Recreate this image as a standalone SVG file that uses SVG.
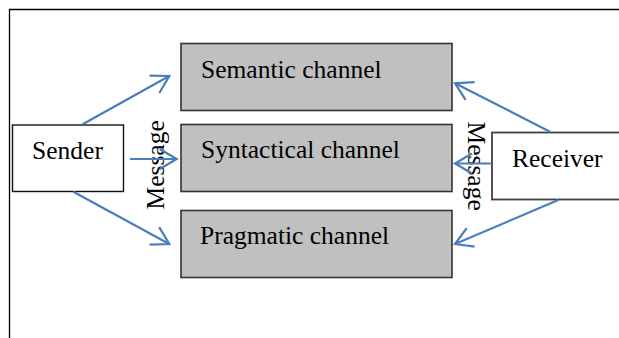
<svg xmlns="http://www.w3.org/2000/svg" width="619" height="338" viewBox="0 0 619 338">
<style>
text{font-family:"Liberation Serif","Times New Roman",serif;font-size:25.5px;fill:#000}
.ch{fill:#c0c0c0;stroke:#333;stroke-width:1.6}
.box{fill:#fff;stroke:#111;stroke-width:1.4}
.arr{fill:none;stroke:#4a7ebb;stroke-width:2.2;marker-end:url(#ah)}
</style>
<defs>
<marker id="ah" markerUnits="userSpaceOnUse" orient="auto" markerWidth="40" markerHeight="40" refX="0" refY="0" viewBox="-20 -20 40 40" overflow="visible">
<path d="M-17,-10 L0,0 L-17,10" fill="none" stroke="#4a7ebb" stroke-width="2.2"/>
</marker>
</defs>
<rect width="619" height="338" fill="#fff"/>
<g id="frame"><path d="M9.5,338 V9.5 H619" fill="none" stroke="#000" stroke-width="1.3"/></g>
<g id="semantic"><rect class="ch" x="181" y="43.5" width="271" height="67"/><text x="201" y="78">Semantic channel</text></g>
<g id="syntactical"><rect class="ch" x="181" y="124.5" width="271" height="67"/><text x="201" y="158">Syntactical channel</text></g>
<g id="pragmatic"><rect class="ch" x="181" y="210.5" width="271" height="67"/><text x="200" y="244">Pragmatic channel</text></g>
<g id="sender"><rect class="box" x="12.5" y="125" width="111" height="66.5"/><text x="67.5" y="159" text-anchor="middle">Sender</text></g>
<g id="receiver"><rect x="492" y="132.5" width="130" height="67" fill="#fff" stroke="#404040" stroke-width="1.8"/><text x="512" y="166.5">Receiver</text></g>
<g id="labels">
<text transform="translate(163.5,209.5) rotate(-90)">Message</text>
<text transform="translate(468,121.5) rotate(90)">Message</text>
</g>
<g id="connectors">
<line class="arr" x1="82.7" y1="124.3" x2="169.3" y2="76"/>
<line class="arr" x1="130" y1="159" x2="176.7" y2="159"/>
<line class="arr" x1="73.3" y1="191.7" x2="169.3" y2="244"/>
<line class="arr" x1="550" y1="131.7" x2="455" y2="83.3"/>
<line class="arr" x1="491.7" y1="163.5" x2="455" y2="163.5"/>
<line class="arr" x1="558.3" y1="200" x2="455" y2="244"/>
</g>
</svg>
